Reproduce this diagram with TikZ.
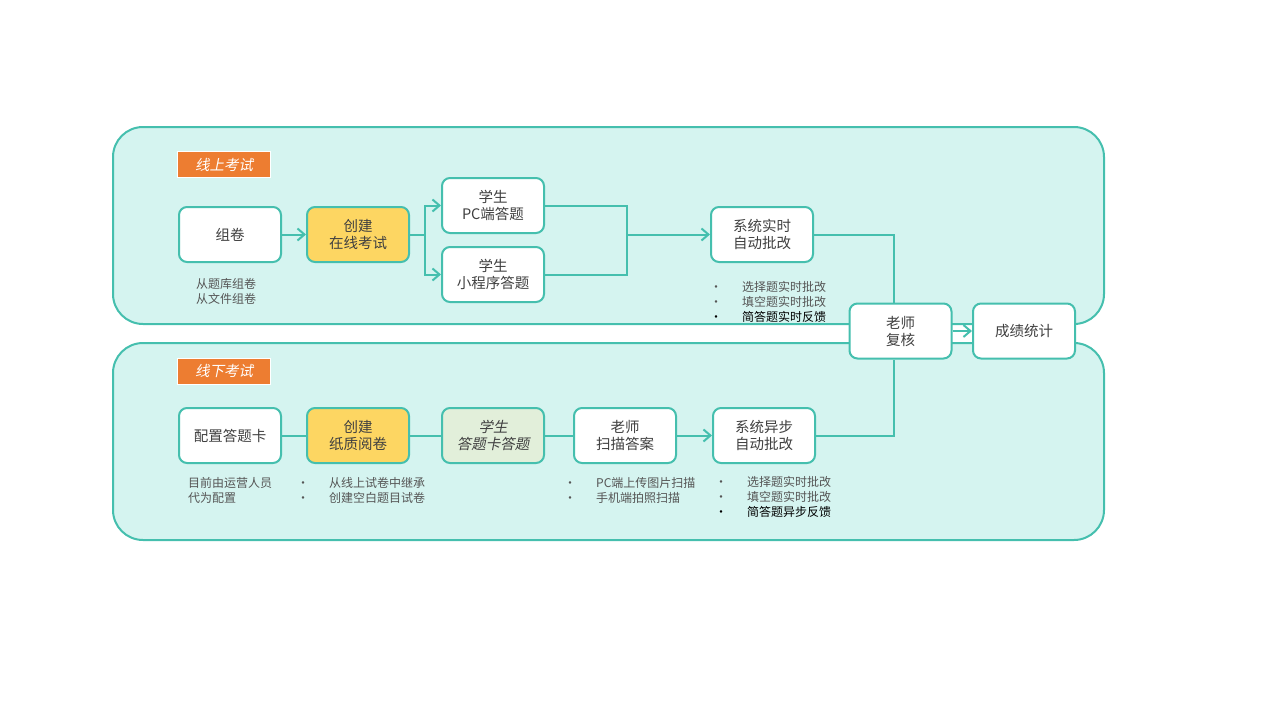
\documentclass[tikz,border=0pt]{standalone}
\usepackage{fontspec}
\setmainfont{Noto Sans CJK SC}
\newfontfamily\slantfont{Noto Sans CJK SC}[FakeSlant=0.2]
\usetikzlibrary{arrows.meta}
\definecolor{lineteal}{HTML}{45BFAE}
\definecolor{panelfill}{HTML}{D5F4F0}
\definecolor{tagorange}{HTML}{ED7D31}
\definecolor{boxyellow}{HTML}{FDD662}
\definecolor{boxgreen}{HTML}{E2EFDA}
\definecolor{textgray}{HTML}{404040}
\definecolor{notegray}{HTML}{555555}
\newcommand{\blt}{\makebox[32pt][l]{\textbullet}}

\begin{document}
\begin{tikzpicture}[x=1pt, y=-1pt,
	panel/.style={draw=lineteal, line width=2pt, fill=panelfill, rounded corners=30pt},
	box/.style={draw=lineteal, line width=2pt, fill=white, rounded corners=8pt, minimum width=102pt, minimum height=55pt, inner sep=0pt, align=center, text=textgray, font=\fontsize{14.5}{17}\selectfont},
	tag/.style={draw=white, line width=1pt, fill=tagorange, minimum width=93pt, minimum height=26pt, inner sep=0pt, text=white, font=\slantfont\fontsize{14.5}{17}\selectfont},
	note/.style={inner sep=0pt, align=left, text=notegray, font=\fontsize{12}{15}\selectfont},
	conn/.style={draw=lineteal, line width=2pt},
	arr/.style={-{Straight Barb[length=7pt,width=12pt,line width=2pt]}}]
			%%%%% START %%%%%
			\useasboundingbox (0, 0) rectangle (1280, 720);
			
			\draw[panel] (113, 127) rectangle (1104, 324);
			\draw[panel] (113, 343) rectangle (1104, 540);
			
			\node[tag] (ontag) at (224, 164.5) {线上考试};
			\node[tag] (offtag) at (224, 371) {线下考试};
			
			% online row
			\node[box] (zujuan) at (230, 234.5) {组卷};
			\node[box, fill=boxyellow] (onexam) at (358, 234.5) {创建\\在线考试};
			\node[box] (pcanswer) at (493, 205.5) {学生\\PC端答题};
			\node[box] (mpanswer) at (493, 274.5) {学生\\小程序答题};
			\node[box] (realtime) at (762, 234.5) {系统实时\\自动批改};
			
			\node[box] (review) at (900.5, 331) {老师\\复核};
			\node[box] (stats) at (1024, 331) {成绩统计};
			
			% offline row
			\node[box] (cardcfg) at (230, 435.5) {配置答题卡};
			\node[box, fill=boxyellow] (paperexam) at (358, 435.5) {创建\\纸质阅卷};
			\node[box, fill=boxgreen, font=\slantfont\fontsize{14.5}{17}\selectfont] (cardanswer) at (493, 435.5) {学生\\答题卡答题};
			\node[box] (scan) at (625, 435.5) {老师\\扫描答案};
			\node[box] (async) at (764, 435.5) {系统异步\\自动批改};
			
			% notes
			\node[note, align=center] (zujuannote) at (226, 291) {从题库组卷\\从文件组卷};
			\node[note, anchor=west] (realtimenote) at (710, 302) {\blt 选择题实时批改\\\blt 填空题实时批改\\\textcolor{black}{\blt 简答题实时反馈}};
			\node[note, anchor=west] (cardcfgnote) at (188, 490) {目前由运营人员\\代为配置};
			\node[note, anchor=west] (paperexamnote) at (297, 490) {\blt 从线上试卷中继承\\\blt 创建空白题目试卷};
			\node[note, anchor=west] (scannote) at (564, 490) {\blt PC端上传图片扫描\\\blt 手机端拍照扫描};
			\node[note, anchor=west] (asyncnote) at (715, 497) {\blt 选择题实时批改\\\blt 填空题实时批改\\\textcolor{black}{\blt 简答题异步反馈}};
			
			% connectors
			\coordinate (split) at (425, 234.5);
			\coordinate (join) at (627, 234.5);
			\draw[conn, arr] (zujuan) -- (onexam);
			\draw[conn] (onexam) -- (split);
			\draw[conn, arr] (split) |- (pcanswer);
			\draw[conn, arr] (split) |- (mpanswer);
			\draw[conn] (pcanswer) -| (join);
			\draw[conn] (mpanswer) -| (join);
			\draw[conn, arr] (join) -- (realtime);
			\draw[conn] (realtime) -| ([xshift=-7pt]review.north);
			
			\draw[conn] (cardcfg) -- (paperexam);
			\draw[conn] (paperexam) -- (cardanswer);
			\draw[conn] (cardanswer) -- (scan);
			\draw[conn, arr] (scan) -- (async);
			\draw[conn] (async) -| ([xshift=-7pt]review.south);
			
			\draw[conn, arr] (review) -- (stats);
			%%%%% END %%%%%
\end{tikzpicture}
\end{document}
